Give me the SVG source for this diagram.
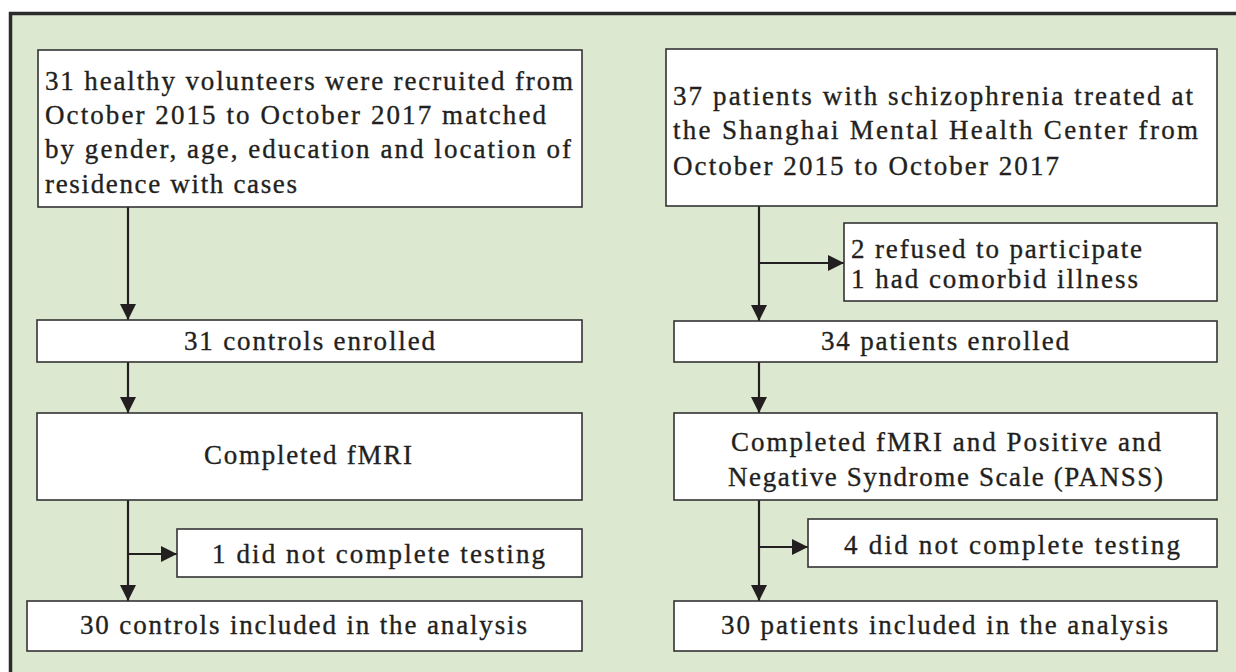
<svg xmlns="http://www.w3.org/2000/svg" width="1236" height="672" viewBox="0 0 1236 672">
<defs>
<marker id="ah" markerUnits="userSpaceOnUse" markerWidth="17" markerHeight="17" refX="16" refY="8.5" orient="auto">
<path d="M0,0.5 L16,8.5 L0,16.5 z" fill="#231f20"/>
</marker>
<style>
.box{fill:#ffffff;stroke:#333333;stroke-width:1.6}
.t{font-family:"Liberation Serif","Times New Roman",serif;font-size:27px;fill:#231f20;stroke:#231f20;stroke-width:0.35}
.c{fill:none;stroke:#231f20;stroke-width:2.2}
</style>
</defs>
<rect x="0" y="0" width="1236" height="672" fill="#ffffff"/>
<rect x="10.5" y="13.5" width="1240" height="690" fill="#dde8d0" stroke="#2b2b2b" stroke-width="3.5"/>

<g id="connectors">
<line class="c" x1="128" y1="207" x2="128" y2="320" marker-end="url(#ah)"/>
<line class="c" x1="128" y1="362" x2="128" y2="413" marker-end="url(#ah)"/>
<line class="c" x1="128" y1="500" x2="128" y2="601" marker-end="url(#ah)"/>
<line class="c" x1="128" y1="554" x2="177" y2="554" marker-end="url(#ah)"/>
<line class="c" x1="759" y1="206" x2="759" y2="321" marker-end="url(#ah)"/>
<line class="c" x1="759" y1="263" x2="844" y2="263" marker-end="url(#ah)"/>
<line class="c" x1="759" y1="362" x2="759" y2="413" marker-end="url(#ah)"/>
<line class="c" x1="759" y1="500" x2="759" y2="601" marker-end="url(#ah)"/>
<line class="c" x1="759" y1="547" x2="808" y2="547" marker-end="url(#ah)"/>
</g>

<g id="healthy">
<rect class="box" x="38" y="50" width="544" height="157"/>
<text class="t" x="45" y="90" textLength="528" lengthAdjust="spacing">31 healthy volunteers were recruited from</text>
<text class="t" x="45" y="124" textLength="501" lengthAdjust="spacing">October 2015 to October 2017 matched</text>
<text class="t" x="45" y="158" textLength="526" lengthAdjust="spacing">by gender, age, education and location of</text>
<text class="t" x="45" y="193" textLength="252" lengthAdjust="spacing">residence with cases</text>
</g>

<g id="controls-enrolled">
<rect class="box" x="37" y="320" width="545" height="42"/>
<text class="t" x="184" y="350" textLength="251" lengthAdjust="spacing">31 controls enrolled</text>
</g>

<g id="controls-fmri">
<rect class="box" x="37" y="413" width="545" height="87"/>
<text class="t" x="204" y="464" textLength="208" lengthAdjust="spacing">Completed fMRI</text>
</g>

<g id="controls-excluded">
<rect class="box" x="177" y="529" width="405" height="48"/>
<text class="t" x="212" y="563" textLength="333" lengthAdjust="spacing">1 did not complete testing</text>
</g>

<g id="controls-analysis">
<rect class="box" x="27" y="601" width="555" height="50"/>
<text class="t" x="80" y="634" textLength="447" lengthAdjust="spacing">30 controls included in the analysis</text>
</g>

<g id="patients">
<rect class="box" x="666" y="49" width="551" height="157"/>
<text class="t" x="673" y="105" textLength="520" lengthAdjust="spacing">37 patients with schizophrenia treated at</text>
<text class="t" x="673" y="139" textLength="525" lengthAdjust="spacing">the Shanghai Mental Health Center from</text>
<text class="t" x="673" y="175" textLength="386" lengthAdjust="spacing">October 2015 to October 2017</text>
</g>

<g id="patients-excluded">
<rect class="box" x="844" y="223" width="373" height="78"/>
<text class="t" x="851" y="258" textLength="291" lengthAdjust="spacing">2 refused to participate</text>
<text class="t" x="851" y="288" textLength="287" lengthAdjust="spacing">1 had comorbid illness</text>
</g>

<g id="patients-enrolled">
<rect class="box" x="674" y="321" width="543" height="41"/>
<text class="t" x="821" y="350" textLength="248" lengthAdjust="spacing">34 patients enrolled</text>
</g>

<g id="patients-fmri">
<rect class="box" x="674" y="413" width="543" height="87"/>
<text class="t" x="731" y="451" textLength="430" lengthAdjust="spacing">Completed fMRI and Positive and</text>
<text class="t" x="728" y="486" textLength="435" lengthAdjust="spacing">Negative Syndrome Scale (PANSS)</text>
</g>

<g id="patients-excluded2">
<rect class="box" x="808" y="519" width="409" height="48"/>
<text class="t" x="844" y="554" textLength="336" lengthAdjust="spacing">4 did not complete testing</text>
</g>

<g id="patients-analysis">
<rect class="box" x="674" y="601" width="543" height="50"/>
<text class="t" x="721" y="634" textLength="447" lengthAdjust="spacing">30 patients included in the analysis</text>
</g>
</svg>
